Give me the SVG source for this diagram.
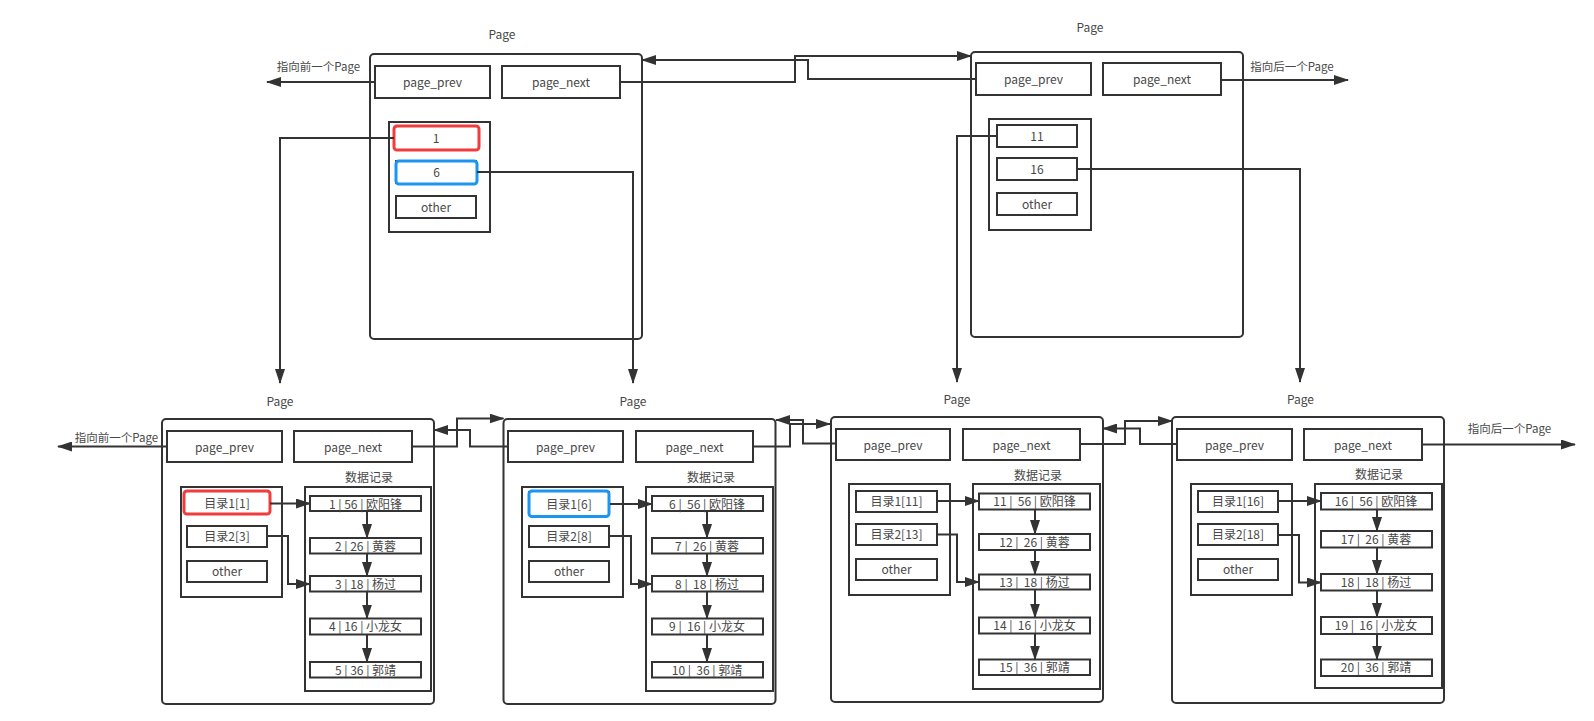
<svg xmlns="http://www.w3.org/2000/svg" width="1594" height="721" viewBox="0 0 1594 721">
<style>
text{font-family:"Noto Sans CJK SC","Noto Sans",sans-serif;font-size:12px;fill:#484848;text-anchor:middle;white-space:pre}
.pg{fill:#fff;stroke:#333;stroke-width:2}
.bx{fill:#fff;stroke:#333;stroke-width:2}
.cn{fill:none;stroke:#333;stroke-width:2}
.red{fill:#fff;stroke:#f23c3c;stroke-width:3}
.blue{fill:#fff;stroke:#1a95f0;stroke-width:3}
.lbl{font-size:11.5px}
</style>
<defs>
<marker id="ah" markerUnits="userSpaceOnUse" markerWidth="15" markerHeight="10" refX="14" refY="5" orient="auto">
<path d="M0,0 L15,5 L0,10 z" fill="#333"/>
</marker>
</defs>

<!-- Top-left page -->
<g id="page-top-left">
<text x="502" y="39">Page</text>
<rect class="pg" x="370" y="54" width="272" height="285" rx="4"/>
<rect class="bx" x="375" y="66" width="115" height="32"/>
<text x="432.5" y="87">page_prev</text>
<rect class="bx" x="502" y="66" width="118" height="32"/>
<text x="561" y="87">page_next</text>
<rect class="bx" x="389" y="122" width="101" height="110"/>
<rect class="bx" x="396" y="127" width="80" height="22"/>
<rect class="red" x="394" y="126" width="85" height="24" rx="3"/>
<text x="436" y="143">1</text>
<rect class="bx" x="396" y="161" width="80" height="22"/>
<rect class="blue" x="396" y="161" width="81" height="23" rx="3"/>
<text x="436.5" y="177">6</text>
<rect class="bx" x="396" y="196" width="80" height="22"/>
<text x="436" y="212">other</text>
</g>

<!-- Top-right page -->
<g id="page-top-right">
<text x="1090" y="32">Page</text>
<rect class="pg" x="971" y="52" width="272" height="285" rx="4"/>
<rect class="bx" x="976" y="63" width="115" height="32"/>
<text x="1033.5" y="84">page_prev</text>
<rect class="bx" x="1103" y="63" width="118" height="32"/>
<text x="1162" y="84">page_next</text>
<rect class="bx" x="989" y="119" width="102" height="111"/>
<rect class="bx" x="997" y="125" width="80" height="22"/>
<text x="1037" y="141">11</text>
<rect class="bx" x="997" y="158" width="80" height="22"/>
<text x="1037" y="174">16</text>
<rect class="bx" x="997" y="193" width="80" height="22"/>
<text x="1037" y="209">other</text>
</g>

<!-- Bottom page 1 -->
<g id="page-1">
<text x="280" y="406">Page</text>
<rect class="pg" x="162" y="419" width="272" height="285" rx="4"/>
<rect class="bx" x="167" y="431" width="115" height="31"/>
<text x="224.5" y="451.5">page_prev</text>
<rect class="bx" x="294" y="431" width="118" height="31"/>
<text x="353" y="451.5">page_next</text>
<text x="369" y="481.5">数据记录</text>
<rect class="bx" x="181" y="487" width="101" height="110"/>
<rect class="bx" x="187" y="492" width="80" height="21"/>
<rect class="red" x="184" y="491" width="86" height="23" rx="3"/>
<text x="227" y="507.5">目录1[1]</text>
<rect class="bx" x="187" y="526" width="80" height="21"/>
<text x="227" y="541">目录2[3]</text>
<rect class="bx" x="187" y="561" width="80" height="21"/>
<text x="227" y="576">other</text>
<rect class="bx" x="305" y="487" width="126" height="204"/>
<rect class="bx" x="310" y="496" width="111" height="15"/>
<text x="365.5" y="508.5">1 | 56 | 欧阳锋</text>
<rect class="bx" x="310" y="538" width="111" height="15.5"/>
<text x="365.5" y="550.5">2 | 26 | 黄蓉</text>
<rect class="bx" x="310" y="576" width="111" height="15.5"/>
<text x="365.5" y="588.5">3 | 18 | 杨过</text>
<rect class="bx" x="310" y="618.5" width="111" height="16"/>
<text x="365.5" y="631">4 | 16 | 小龙女</text>
<rect class="bx" x="310" y="662" width="111" height="15.5"/>
<text x="365.5" y="674.5">5 | 36 | 郭靖</text>
</g>

<!-- Bottom page 2 -->
<g id="page-2">
<text x="633" y="406">Page</text>
<rect class="pg" x="503.5" y="419" width="272" height="285" rx="4"/>
<rect class="bx" x="508" y="431" width="115" height="31"/>
<text x="565.5" y="451.5">page_prev</text>
<rect class="bx" x="636" y="431" width="117" height="31"/>
<text x="694.5" y="451.5">page_next</text>
<text x="711" y="481.5">数据记录</text>
<rect class="bx" x="522" y="487" width="101" height="110"/>
<rect class="bx" x="529" y="492" width="80" height="22"/>
<rect class="blue" x="529" y="491" width="80" height="25.5" rx="3"/>
<text x="569" y="508.5">目录1[6]</text>
<rect class="bx" x="529" y="526" width="80" height="21"/>
<text x="569" y="541">目录2[8]</text>
<rect class="bx" x="529" y="561" width="80" height="21"/>
<text x="569" y="576">other</text>
<rect class="bx" x="646" y="487" width="127" height="204"/>
<rect class="bx" x="652" y="496" width="111" height="15"/>
<text x="707" y="508.5">6 |  56 | 欧阳锋</text>
<rect class="bx" x="652" y="538" width="111" height="15.5"/>
<text x="707" y="550.5">7 |  26 | 黄蓉</text>
<rect class="bx" x="652" y="576" width="111" height="15.5"/>
<text x="707" y="588.5">8 |  18 | 杨过</text>
<rect class="bx" x="652" y="618.5" width="111" height="16"/>
<text x="707" y="631">9 |  16 | 小龙女</text>
<rect class="bx" x="652" y="662" width="111" height="15.5"/>
<text x="707" y="674.5">10 |  36 | 郭靖</text>
</g>

<!-- Bottom page 3 -->
<g id="page-3">
<text x="957" y="404">Page</text>
<rect class="pg" x="831" y="417" width="272" height="285" rx="4"/>
<rect class="bx" x="836" y="429" width="114" height="31"/>
<text x="893" y="449.5">page_prev</text>
<rect class="bx" x="963" y="429" width="117" height="31"/>
<text x="1021.5" y="449.5">page_next</text>
<text x="1038" y="479.5">数据记录</text>
<rect class="bx" x="849" y="484" width="101" height="111"/>
<rect class="bx" x="856" y="491" width="81" height="21"/>
<text x="896.5" y="506">目录1[11]</text>
<rect class="bx" x="856" y="524" width="81" height="21"/>
<text x="896.5" y="539">目录2[13]</text>
<rect class="bx" x="856" y="559" width="81" height="21"/>
<text x="896.5" y="574">other</text>
<rect class="bx" x="973" y="484" width="127" height="205"/>
<rect class="bx" x="979" y="493.5" width="111" height="16"/>
<text x="1034.5" y="506">11 |  56 | 欧阳锋</text>
<rect class="bx" x="979" y="534" width="111" height="16"/>
<text x="1034.5" y="546.5">12 |  26 | 黄蓉</text>
<rect class="bx" x="979" y="574.5" width="111" height="15"/>
<text x="1034.5" y="586.5">13 |  18 | 杨过</text>
<rect class="bx" x="979" y="617.5" width="111" height="16"/>
<text x="1034.5" y="630">14 |  16 | 小龙女</text>
<rect class="bx" x="979" y="659.5" width="111" height="15.5"/>
<text x="1034.5" y="672">15 |  36 | 郭靖</text>
</g>

<!-- Bottom page 4 -->
<g id="page-4">
<text x="1300.5" y="404">Page</text>
<rect class="pg" x="1172" y="417" width="272" height="286" rx="4"/>
<rect class="bx" x="1177" y="429" width="115" height="31"/>
<text x="1234.5" y="449.5">page_prev</text>
<rect class="bx" x="1304" y="429" width="118" height="31"/>
<text x="1363" y="449.5">page_next</text>
<text x="1379" y="479">数据记录</text>
<rect class="bx" x="1191" y="484" width="101" height="111"/>
<rect class="bx" x="1198" y="491" width="80" height="21"/>
<text x="1238" y="506">目录1[16]</text>
<rect class="bx" x="1198" y="524" width="80" height="21"/>
<text x="1238" y="539">目录2[18]</text>
<rect class="bx" x="1198" y="559" width="80" height="21"/>
<text x="1238" y="574">other</text>
<rect class="bx" x="1315" y="484" width="127" height="204"/>
<rect class="bx" x="1321" y="493" width="111" height="16.5"/>
<text x="1376" y="505.5">16 |  56 | 欧阳锋</text>
<rect class="bx" x="1321" y="531" width="111" height="16.5"/>
<text x="1376" y="543.5">17 |  26 | 黄蓉</text>
<rect class="bx" x="1321" y="574" width="111" height="16.5"/>
<text x="1376" y="586.5">18 |  18 | 杨过</text>
<rect class="bx" x="1321" y="617" width="111" height="17"/>
<text x="1376" y="629.5">19 |  16 | 小龙女</text>
<rect class="bx" x="1321" y="659.5" width="111" height="16.5"/>
<text x="1376" y="672">20 |  36 | 郭靖</text>
</g>

<!-- Free labels -->
<g id="labels">
<text class="lbl" x="318.5" y="71">指向前一个Page</text>
<text class="lbl" x="1292" y="71">指向后一个Page</text>
<text class="lbl" x="116.5" y="442">指向前一个Page</text>
<text class="lbl" x="1509.5" y="433">指向后一个Page</text>
</g>

<!-- Connectors -->
<g id="connectors" class="cn">
<path class="cn" d="M375,82 H267" marker-end="url(#ah)"/>
<path class="cn" d="M1221,80 H1348" marker-end="url(#ah)"/>
<path class="cn" d="M620,82 H795 V56 H971" marker-end="url(#ah)"/>
<path class="cn" d="M976,79 H808 V60 H642" marker-end="url(#ah)"/>
<path class="cn" d="M394,138 H280 V383" marker-end="url(#ah)"/>
<path class="cn" d="M477,172 H633 V383" marker-end="url(#ah)"/>
<path class="cn" d="M997,136 H957 V382" marker-end="url(#ah)"/>
<path class="cn" d="M1077,169 H1300 V382" marker-end="url(#ah)"/>

<path class="cn" d="M167,446.5 H58" marker-end="url(#ah)"/>
<path class="cn" d="M1422,444.5 H1575" marker-end="url(#ah)"/>
<path class="cn" d="M412,446.5 H457 V418.5 H503.5" marker-end="url(#ah)"/>
<path class="cn" d="M508,446.5 H470 V430 H434" marker-end="url(#ah)"/>
<path class="cn" d="M753,446.5 H790 V424 H830" marker-end="url(#ah)"/>
<path class="cn" d="M836,443.5 H803 V420 H776" marker-end="url(#ah)"/>
<path class="cn" d="M1080,444 H1125 V421 H1172" marker-end="url(#ah)"/>
<path class="cn" d="M1177,444 H1140 V428.5 H1103" marker-end="url(#ah)"/>

<path class="cn" d="M270,503.5 H310" marker-end="url(#ah)"/>
<path class="cn" d="M267,536 H288 V584 H310" marker-end="url(#ah)"/>
<path class="cn" d="M367,511 V538" marker-end="url(#ah)"/>
<path class="cn" d="M367,553.5 V576" marker-end="url(#ah)"/>
<path class="cn" d="M367,591.5 V618.5" marker-end="url(#ah)"/>
<path class="cn" d="M367,634.5 V662" marker-end="url(#ah)"/>

<path class="cn" d="M610,504 H652" marker-end="url(#ah)"/>
<path class="cn" d="M609,536 H631 V584 H652" marker-end="url(#ah)"/>
<path class="cn" d="M707,511 V538" marker-end="url(#ah)"/>
<path class="cn" d="M707,553.5 V576" marker-end="url(#ah)"/>
<path class="cn" d="M707,591.5 V618.5" marker-end="url(#ah)"/>
<path class="cn" d="M707,634.5 V662" marker-end="url(#ah)"/>

<path class="cn" d="M937,501 H979" marker-end="url(#ah)"/>
<path class="cn" d="M937,534.5 H957 V582 H979" marker-end="url(#ah)"/>
<path class="cn" d="M1035,509.5 V534" marker-end="url(#ah)"/>
<path class="cn" d="M1035,550 V574.5" marker-end="url(#ah)"/>
<path class="cn" d="M1035,589.5 V617.5" marker-end="url(#ah)"/>
<path class="cn" d="M1035,633.5 V659.5" marker-end="url(#ah)"/>

<path class="cn" d="M1278,501 H1321" marker-end="url(#ah)"/>
<path class="cn" d="M1278,535 H1299 V582.5 H1321" marker-end="url(#ah)"/>
<path class="cn" d="M1377,509.5 V531" marker-end="url(#ah)"/>
<path class="cn" d="M1377,547.5 V574" marker-end="url(#ah)"/>
<path class="cn" d="M1377,590.5 V617" marker-end="url(#ah)"/>
<path class="cn" d="M1377,634 V659.5" marker-end="url(#ah)"/>
</g>
</svg>
